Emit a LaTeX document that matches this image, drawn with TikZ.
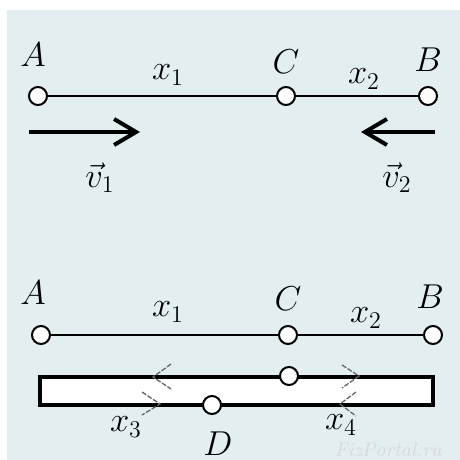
\documentclass[tikz,border=0pt]{standalone}
\usetikzlibrary{arrows.meta}
\definecolor{paper}{RGB}{227,238,240}
\tikzset{
  dot/.style={circle, draw, fill=white, line width=1pt, minimum size=9pt, inner sep=0pt},
  lbl/.style={font=\fontsize{17.28}{21}\selectfont, inner sep=0pt},
  seg/.style={line width=1pt},
  vel/.style={-{Straight Barb[length=11pt,width=13pt,line width=2pt]}, line width=2pt},
  plank/.style={draw, fill=white, line width=2pt},
  chev/.style={draw=black!60, line width=0.65pt, dash pattern=on 2.5pt off 0.8pt},
  wm/.style={font=\fontsize{10}{12}\selectfont\itshape, text=black!15, inner sep=0pt},
}

\begin{document}
\begin{tikzpicture}[x=0.5pt, y=-0.5pt]
\useasboundingbox (0,0) rectangle (460,460);
\fill[paper] (7,10) rectangle (460,460);
% upper sketch: two bodies meeting at C
\node[dot] (A1) at (38,96) {};
\node[dot] (C1) at (286,96) {};
\node[dot] (B1) at (428,96) {};
\draw[seg] (A1) -- (C1) -- (B1);
\node[lbl] (lA1) at (33,55) {$A$};
\node[lbl] (lC1) at (286,62) {$C$};
\node[lbl] (lB1) at (428,60) {$B$};
\node[lbl] (lx1) at (168,75) {$x_1$};
\node[lbl] (lx2) at (364,79) {$x_2$};
\coordinate (v1a) at (29,132);
\coordinate (v1b) at (140,132);
\coordinate (v2a) at (435,132);
\coordinate (v2b) at (361,132);
\draw[vel] (v1a) -- (v1b);
\draw[vel] (v2a) -- (v2b);
\node[lbl] (lv1) at (100,178) {$\vec{v}_1$};
\node[lbl] (lv2) at (397,178) {$\vec{v}_2$};
% lower sketch: the plank between the two points
\node[dot] (A2) at (41,335) {};
\node[dot] (C2) at (288,335) {};
\node[dot] (B2) at (433,335) {};
\draw[seg] (A2) -- (C2) -- (B2);
\node[lbl] (lA2) at (33,293) {$A$};
\node[lbl] (lC2) at (288,299) {$C$};
\node[lbl] (lB2) at (430,297) {$B$};
\node[lbl] (lx1b) at (168,312) {$x_1$};
\node[lbl] (lx2b) at (366,318) {$x_2$};
\draw[plank] (40,377) rectangle (433,405);
\node[dot] (C3) at (289,376) {};
\node[dot] (D) at (212,405) {};
\draw[chev] (171,364) -- (153,377) -- (171,389);
\draw[chev] (342,365) -- (359,376) -- (342,388);
\draw[chev] (142,392) -- (160,404) -- (142,415);
\draw[chev] (356,392) -- (340,404) -- (356,416);
\node[lbl] (lx3) at (126,427) {$x_3$};
\node[lbl] (lD) at (218,444) {$D$};
\node[lbl] (lx4) at (341,425) {$x_4$};
\node[wm] (mark) at (388,450) {FizPortal.ru};
\end{tikzpicture}
\end{document}
